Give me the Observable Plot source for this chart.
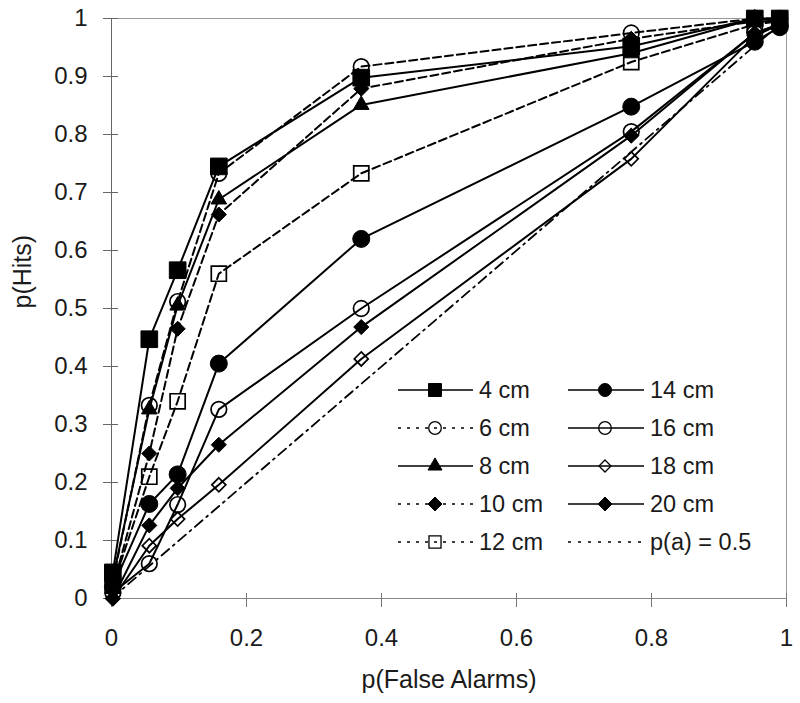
<!DOCTYPE html>
<html>
<head>
<meta charset="utf-8">
<script src="https://cdn.jsdelivr.net/npm/d3@7"></script>
<script src="https://cdn.jsdelivr.net/npm/@observablehq/plot@0.6"></script>
<style>
  body { margin: 0; background: #fff; }
  #wrap { position: relative; width: 800px; height: 703px; }
  #legend { position: absolute; left: 0; top: 0; pointer-events: none; }
</style>
</head>
<body>
<div id="wrap"></div>
<script>
// ---- data ----
const falseAlarms = [0.002, 0.056, 0.098, 0.159, 0.37, 0.77, 0.953, 0.99];
const hits4cm  = [0.045, 0.447, 0.566, 0.745, 0.898, 0.952, 1.0, 1.0];
const hits6cm  = [0.030, 0.333, 0.512, 0.733, 0.917, 0.975, 1.0, 1.0];
const hits8cm  = [0.035, 0.326, 0.505, 0.688, 0.851, 0.940, 1.0, 0.995];
const hits10cm = [0.020, 0.250, 0.465, 0.662, 0.879, 0.965, 0.995, 0.995];
const hits12cm = [0.022, 0.210, 0.340, 0.560, 0.733, 0.925, 0.99, 0.995];
const hits14cm = [0.020, 0.163, 0.214, 0.405, 0.620, 0.848, 0.96, 0.985];
const hits16cm = [0.010, 0.060, 0.162, 0.326, 0.500, 0.805, 0.975, 0.99];
const hits18cm = [0.000, 0.091, 0.137, 0.196, 0.413, 0.758, 0.97, 0.99];
const hits20cm = [0.000, 0.126, 0.190, 0.265, 0.468, 0.798, 0.975, 0.99];
const seriesNames = ["4 cm", "6 cm", "8 cm", "10 cm", "12 cm", "14 cm", "16 cm", "18 cm", "20 cm"];
const seriesHits = [hits4cm, hits6cm, hits8cm, hits10cm, hits12cm, hits14cm, hits16cm, hits18cm, hits20cm];
const chanceFA = [0, 1];
const chanceHits = [0, 1];
const chanceName = "p(a) = 0.5";
const xTicks = [0, 0.2, 0.4, 0.6, 0.8, 1];
const yTicks = [0, 0.1, 0.2, 0.3, 0.4, 0.5, 0.6, 0.7, 0.8, 0.9, 1];
const xLabel = "p(False Alarms)";
const yLabel = "p(Hits)";

// ---- styles ----
const DASH = "8,4";
const LEGDASH = "3,6";
const styles = {
  "4 cm":  {symbol: "square",   filled: true,  dash: null, r: 9.4, lr: 7.3},
  "6 cm":  {symbol: "circle",   filled: false, dash: DASH, r: 7.8, lr: 6.3},
  "8 cm":  {symbol: "triangle", filled: true,  dash: null, r: 5.8, lr: 5.2},
  "10 cm": {symbol: "diamond2", filled: true,  dash: DASH, r: 6.8, lr: 6.3},
  "12 cm": {symbol: "square",   filled: false, dash: DASH, r: 8.5, lr: 6.8},
  "14 cm": {symbol: "circle",   filled: true,  dash: null, r: 8.5, lr: 6.5},
  "16 cm": {symbol: "circle",   filled: false, dash: null, r: 7.8, lr: 6.3},
  "18 cm": {symbol: "diamond2", filled: false, dash: null, r: 6.3, lr: 5.4},
  "20 cm": {symbol: "diamond2", filled: true,  dash: null, r: 6.8, lr: 6.3}
};
const FONT = "'Liberation Sans', Arial, sans-serif";

const W = 800, H = 703;
const M = {left: 111, right: 14, top: 18, bottom: 105};
const plotW = W - M.left - M.right, plotH = H - M.top - M.bottom;

const rows = seriesNames.map((name, i) =>
  falseAlarms.map((fa, j) => ({name, fa, hit: seriesHits[i][j]})));
const chanceRows = chanceFA.map((fa, j) => ({fa, hit: chanceHits[j]}));

const marks = [
  Plot.frame({stroke: "#999"}),
  Plot.ruleX([0], {stroke: "#666"}),
  Plot.ruleY([0], {stroke: "#888"}),
  Plot.tickX(xTicks, {x: d => d, stroke: "#777", insetTop: plotH - 5}),
  Plot.tickY(yTicks, {y: d => d, stroke: "#666", insetRight: plotW - 7}),
  Plot.axisX({ticks: xTicks, tickSize: 9, tickPadding: 21, stroke: "#777",
    tickFormat: d => String(d), label: null, fontSize: 24, fill: "#1a1a1a"}),
  Plot.axisY({ticks: yTicks, tickSize: 8, tickPadding: 16, stroke: "#666",
    tickFormat: d => String(d), label: null, fontSize: 24, fill: "#1a1a1a"}),
  Plot.line(chanceRows, {x: "fa", y: "hit", stroke: "black", strokeWidth: 1.8,
    strokeDasharray: "10,5,2,5"})
];
rows.forEach(data => {
  const s = styles[data[0].name];
  marks.push(Plot.line(data, {x: "fa", y: "hit", stroke: "black", strokeWidth: 2,
    strokeDasharray: s.dash || undefined}));
});
rows.forEach(data => {
  const s = styles[data[0].name];
  marks.push(Plot.dot(data, {x: "fa", y: "hit", symbol: s.symbol, r: s.r,
    fill: s.filled ? "black" : "none", stroke: "black",
    strokeWidth: s.filled ? 1 : 1.7}));
});
marks.push(
  Plot.text([xLabel], {text: d => d, frameAnchor: "bottom", dy: 89, fontSize: 25, fill: "#1a1a1a"}),
  Plot.text([yLabel], {text: d => d, frameAnchor: "left", dx: -89, rotate: -90, fontSize: 25, fill: "#1a1a1a"})
);

const chart = Plot.plot({
  width: W, height: H,
  marginLeft: M.left, marginRight: M.right, marginTop: M.top, marginBottom: M.bottom,
  x: {domain: [0, 1]},
  y: {domain: [0, 1]},
  style: {fontFamily: FONT, fontSize: "24px", background: "white", overflow: "visible"},
  marks
});
const wrap = document.getElementById("wrap");
wrap.appendChild(chart);

// ---- legend (inside plot area) ----
const leg = d3.select(wrap).append("svg").attr("id", "legend")
  .attr("width", W).attr("height", H)
  .style("font-family", FONT);
const symMap = {square: d3.symbolSquare, circle: d3.symbolCircle,
  triangle: d3.symbolTriangle, diamond2: d3.symbolDiamond2};
const legItems = seriesNames.map(n => ({name: n, style: styles[n]}))
  .concat([{name: chanceName, style: null}]);
const colX = [{x1: 398, x2: 473, mx: 435, tx: 479}, {x1: 568, x2: 644, mx: 605, tx: 650}];
const rowY0 = 390, rowDY = 38;
legItems.forEach((it, i) => {
  const c = colX[Math.floor(i / 5)];
  const y = rowY0 + (i % 5) * rowDY;
  const g = leg.append("g");
  const s = it.style;
  g.append("line").attr("x1", c.x1).attr("x2", c.x2).attr("y1", y).attr("y2", y)
    .attr("stroke", "black").attr("stroke-width", 1.5)
    .attr("stroke-dasharray", s ? (s.dash ? LEGDASH : null) : "3,7");
  if (s) {
    g.append("path")
      .attr("d", d3.symbol(symMap[s.symbol], Math.PI * s.lr * s.lr)())
      .attr("transform", `translate(${c.mx},${y})`)
      .attr("fill", s.filled ? "black" : "none")
      .attr("stroke", "black").attr("stroke-width", s.filled ? 1 : 1.3);
  }
  g.append("text").attr("x", c.tx).attr("y", y).attr("dy", "0.36em")
    .attr("font-size", 23.5).attr("fill", "#1a1a1a").text(it.name);
});
</script>
</body>
</html>
